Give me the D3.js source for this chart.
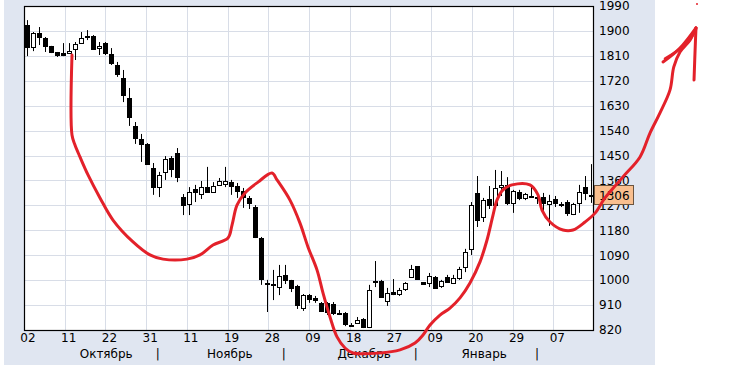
<!DOCTYPE html>
<html><head><meta charset="utf-8">
<script src="https://cdn.jsdelivr.net/npm/d3@7"></script>
<style>
html,body{margin:0;padding:0;background:#fff;}
svg{display:block;}
text{font-family:"DejaVu Sans",Verdana,sans-serif;font-size:12px;fill:#000;}
</style></head>
<body>
<svg id="chart" width="737" height="370"></svg>
<script>
// ---- data ----
const opens = [1921,1842,1892,1874,1846,1824,1820,1820,1835,1856,
  1881,1882,1838,1856,1817,1777,1730,1658,1557,1510,
  1492,1405,1336,1391,1441,1459,1300,1275,1329,1311,
  1336,1318,1344,1347,1354,1340,1322,1297,1264,1152,
  990,986,975,1019,1001,979,899,946,936,918,
  918,914,881,881,838,845,860,831,997,997,
  925,957,950,968,1011,1051,993,990,1011,979,
  1011,990,1008,1048,1113,1315,1228,1293,1271,1336,
  1344,1279,1318,1297,1304,1300,1300,1275,1293,1275,
  1282,1239,1279,1336,1308];
const highs = [1939,1896,1914,1878,1846,1824,1856,1856,1860,1896,
  1903,1885,1860,1860,1838,1788,1759,1694,1571,1528,
  1495,1423,1391,1448,1448,1477,1311,1336,1344,1358,
  1409,1354,1369,1409,1362,1351,1333,1304,1271,1156,
  1001,1037,1055,1055,1001,983,950,950,943,921,
  921,921,892,885,845,867,863,983,1069,1001,
  972,1004,972,993,1055,1051,993,1026,1015,1001,
  1019,1019,1048,1113,1282,1376,1297,1340,1398,1394,
  1372,1326,1326,1315,1344,1315,1315,1308,1304,1282,
  1289,1279,1344,1376,1419];
const lows = [1809,1827,1849,1824,1820,1806,1809,1817,1795,1853,
  1867,1835,1813,1813,1777,1734,1643,1557,1492,1427,
  1416,1308,1300,1362,1372,1354,1235,1235,1282,1293,
  1315,1315,1340,1336,1308,1297,1261,1257,1152,983,
  885,928,946,986,957,896,889,918,918,885,
  874,874,874,834,831,842,827,827,975,936,
  907,946,943,961,1008,1001,983,975,968,972,
  990,986,1001,1029,1091,1192,1210,1257,1264,1304,
  1271,1243,1289,1289,1297,1275,1239,1196,1264,1264,
  1232,1235,1243,1289,1279];
const closes = [1842,1892,1878,1846,1824,1813,1813,1827,1853,1874,
  1882,1835,1846,1820,1784,1744,1669,1589,1513,1492,
  1419,1336,1380,1437,1401,1372,1271,1318,1318,1336,
  1318,1340,1358,1358,1340,1322,1300,1279,1156,1004,
  989,987,1015,1001,972,910,946,932,928,889,
  885,881,880,842,837,856,831,964,996,939,
  954,950,964,990,1040,1004,986,1015,972,997,
  993,1008,1040,1102,1271,1217,1289,1271,1333,1344,
  1279,1322,1297,1311,1305,1299,1279,1286,1279,1274,
  1243,1275,1318,1315,1306];
const priceTicks = [820,910,1000,1090,1180,1270,1360,1450,1540,1630,1720,1810,1900,1990];
const dateTicks = ["02","11","22","31","11","19","28","09","18","27","09","20","29","07"];
const monthLabels = ["Октябрь","Ноябрь","Декабрь","Январь"];
const monthCenters = [13.2, 33.8, 56.2, 76.2];   // in candle-index units
const monthSeparators = [21.8, 42.8, 64.8, 85.0];
// hand-drawn annotation, in [candle index, price]
const annoCurve = [[7.5,1813],[7.5,1524],[8,1488],[8.83,1445],[10.17,1380],[12.17,1297],[14.33,1217],[17.67,1138],[20.5,1091],[22.67,1076],[26.67,1076],[28.83,1091],[31,1127],[33.5,1152],[34.17,1199],[35,1271],[36.33,1315],[38.5,1354],[40.83,1387],[41.67,1362],[43.83,1289],[45.5,1206],[46.83,1120],[48.33,1037],[49.33,954],[50.5,867],[51.67,795],[53,755],[54.33,737],[58.83,737],[62.17,748],[64.67,773],[66,802],[67.17,838],[68.83,874],[70.5,899],[72.17,936],[73.83,990],[75.5,1066],[76.67,1145],[77.67,1235],[78.33,1289],[79.33,1326],[80.83,1344],[83.83,1344],[85.17,1308],[85.83,1253],[87.17,1210],[89.33,1181],[91,1181],[93,1210],[94.67,1242],[96.33,1297],[99.33,1373],[102.17,1445],[103.83,1531],[105.5,1604],[107.17,1687],[107.8,1770],[108.83,1824],[110.5,1867],[111.5,1911]];
const annoBarbLeft = [[106,1788],[108.83,1838],[111.5,1911]];
const annoBarbLoop = [[106.33,1800],[110,1856],[111.5,1905]];
const annoBarbRight = [[111.5,1911],[111.4,1860],[111.17,1723]];
const annoDot = [111.67,1997];

// ---- layout ----
const N = closes.length;
const plot = {l:24, t:6, r:594, b:330};
const svg = d3.select("#chart");
const x = d3.scaleLinear().domain([-0.5, N-0.5]).range([plot.l, plot.r]);
const y = d3.scaleLinear().domain([820,1990]).range([plot.b, plot.t]);

svg.append("rect").attr("x",4).attr("y",0).attr("width",651).attr("height",365).attr("fill","#e0e6f1");
svg.append("rect").attr("x",plot.l).attr("y",plot.t).attr("width",plot.r-plot.l).attr("height",plot.b-plot.t).attr("fill","#fff");

// gridlines
const nDiv = dateTicks.length;
const gridIdx = d3.range(1, nDiv).map(k => -0.5 + k*N/nDiv);
svg.append("g").selectAll("line").data(gridIdx).join("line")
  .attr("x1", d => Math.round(x(d))+0.5).attr("x2", d => Math.round(x(d))+0.5)
  .attr("y1", plot.t).attr("y2", plot.b).attr("stroke","#d8dde7").attr("stroke-width",1);
svg.append("g").selectAll("line").data(priceTicks.slice(1,-1)).join("line")
  .attr("x1", plot.l).attr("x2", plot.r)
  .attr("y1", d => Math.round(y(d))+0.5).attr("y2", d => Math.round(y(d))+0.5)
  .attr("stroke","#d8dde7").attr("stroke-width",1);

// candles
const data = closes.map((c,i)=>({i, o:opens[i], h:highs[i], l:lows[i], c}));
const cg = svg.append("g");
cg.selectAll("line").data(data).join("line")
  .attr("x1", d => Math.round(x(d.i))+0.5).attr("x2", d => Math.round(x(d.i))+0.5)
  .attr("y1", d => y(d.h)).attr("y2", d => y(d.l))
  .attr("stroke","#000").attr("stroke-width",1);
cg.selectAll("rect").data(data).join("rect")
  .attr("x", d => Math.round(x(d.i)) - 1.5)
  .attr("width", 4)
  .attr("y", d => Math.round(y(Math.max(d.o,d.c))) + 0.5)
  .attr("height", d => Math.max(1, Math.round(y(Math.min(d.o,d.c))) - Math.round(y(Math.max(d.o,d.c)))))
  .attr("fill", d => d.c > d.o ? "#fff" : "#000")
  .attr("stroke","#000").attr("stroke-width",1);

// frame
svg.append("rect").attr("x",plot.l+0.5).attr("y",plot.t+0.5).attr("width",plot.r-plot.l-1).attr("height",plot.b-plot.t)
  .attr("fill","none").attr("stroke","#000").attr("stroke-width",1.2);

// y labels
svg.append("g").selectAll("text").data(priceTicks).join("text")
  .attr("x", plot.r+5).attr("y", d => y(d)).attr("dy","0.36em").text(d => d);

// x labels
svg.append("g").selectAll("text").data(dateTicks).join("text")
  .attr("x", (d,k) => x(-0.5 + k*N/nDiv) + 4).attr("y", 342)
  .attr("text-anchor","middle").text(d => d);
svg.append("g").selectAll("text").data(monthLabels).join("text")
  .attr("x", (d,k) => x(monthCenters[k])).attr("y", 358)
  .attr("text-anchor","middle").text(d => d);
svg.append("g").selectAll("text").data(monthSeparators).join("text")
  .attr("x", d => x(d)).attr("y", 358).attr("text-anchor","middle").text("|");

// last price box
const last = closes[N-1];
svg.append("rect").attr("x", plot.r+0.5).attr("y", Math.round(y(last))-9.5).attr("width",39).attr("height",19)
  .attr("fill","#f9bf8f").attr("stroke","#6b5540").attr("stroke-width",1);
svg.append("text").attr("x", plot.r+5).attr("y", y(last)).attr("dy","0.36em").text(last);

// annotation
const line = d3.line().x(d => x(d[0])).y(d => y(d[1])).curve(d3.curveCatmullRom.alpha(0.5));
const ag = svg.append("g").attr("fill","none").attr("stroke","#e3212a").attr("stroke-width",3)
  .attr("stroke-linecap","round").attr("stroke-linejoin","round");
ag.append("path").attr("d", line(annoCurve));
ag.append("path").attr("d", line(annoBarbLeft));
ag.append("path").attr("d", line(annoBarbLoop)).attr("stroke-width",2.5);
ag.append("path").attr("d", line(annoBarbRight));
svg.append("circle").attr("cx", x(annoDot[0])).attr("cy", y(annoDot[1])).attr("r",1).attr("fill","#e3212a");
</script>
</body></html>
